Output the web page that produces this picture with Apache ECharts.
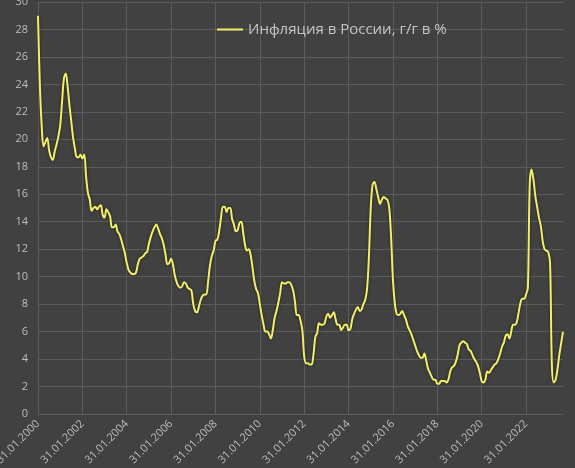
<!DOCTYPE html>
<html>
<head>
<meta charset="utf-8">
<script src="https://cdn.jsdelivr.net/npm/echarts@6/dist/echarts.min.js"></script>
<style>
html,body{margin:0;padding:0;background:#414141;}
#c{width:575px;height:468px;}
</style>
</head>
<body>
<div id="c"></div>
<script>
// Monthly YoY inflation, % (Jan..Dec each year)
const y2000 = [29.0, 24.0, 21.0, 19.5, 19.8, 20.1, 19.2, 18.7, 18.5, 19.1, 19.6, 20.2];
const y2001 = [21.0, 22.7, 24.4, 24.8, 23.9, 22.5, 21.3, 20.1, 19.3, 18.7, 18.7, 18.9];
const y2002 = [18.6, 18.9, 17.3, 16.1, 15.6, 14.8, 15.0, 15.1, 14.9, 15.1, 15.2, 14.5];
const y2003 = [14.3, 14.9, 14.7, 14.4, 13.6, 13.6, 13.8, 13.3, 13.1, 12.7, 12.2, 11.7];
const y2004 = [11.0, 10.5, 10.3, 10.2, 10.2, 10.3, 10.9, 11.3, 11.4, 11.5, 11.7, 11.8];
const y2005 = [12.4, 12.9, 13.3, 13.6, 13.8, 13.5, 13.1, 12.8, 12.3, 11.6, 10.9, 11.0];
const y2006 = [11.3, 10.9, 10.1, 9.6, 9.3, 9.2, 9.3, 9.6, 9.5, 9.2, 9.1, 9.0];
const y2007 = [8.0, 7.5, 7.4, 7.8, 8.3, 8.6, 8.7, 8.7, 9.6, 10.8, 11.5, 11.9];
const y2008 = [12.6, 12.7, 13.3, 14.3, 15.1, 15.1, 14.7, 15.0, 15.0, 14.2, 13.8, 13.3];
const y2009 = [13.4, 13.9, 14.0, 13.2, 12.3, 11.9, 12.0, 11.6, 10.7, 9.7, 9.1, 8.8];
const y2010 = [8.0, 7.2, 6.5, 6.0, 6.0, 5.8, 5.5, 6.1, 7.0, 7.5, 8.1, 8.8];
const y2011 = [9.6, 9.5, 9.5, 9.6, 9.6, 9.4, 9.0, 8.2, 7.2, 7.2, 6.8, 6.1];
const y2012 = [4.2, 3.7, 3.7, 3.6, 3.6, 4.3, 5.6, 5.9, 6.6, 6.5, 6.5, 6.6];
const y2013 = [7.1, 7.3, 7.0, 7.2, 7.4, 6.9, 6.5, 6.5, 6.1, 6.3, 6.5, 6.5];
const y2014 = [6.1, 6.2, 6.9, 7.3, 7.6, 7.8, 7.5, 7.6, 8.0, 8.3, 9.1, 11.4];
const y2015 = [15.0, 16.7, 16.9, 16.4, 15.8, 15.3, 15.6, 15.8, 15.7, 15.6, 15.0, 12.9];
const y2016 = [9.8, 8.1, 7.3, 7.2, 7.3, 7.5, 7.2, 6.9, 6.4, 6.1, 5.8, 5.4];
const y2017 = [5.0, 4.6, 4.3, 4.1, 4.1, 4.4, 3.9, 3.3, 3.0, 2.7, 2.5, 2.5];
const y2018 = [2.2, 2.2, 2.4, 2.4, 2.4, 2.3, 2.5, 3.1, 3.4, 3.5, 3.8, 4.3];
const y2019 = [5.0, 5.2, 5.3, 5.2, 5.1, 4.7, 4.6, 4.3, 4.0, 3.8, 3.5, 3.0];
const y2020 = [2.4, 2.3, 2.5, 3.1, 3.0, 3.2, 3.4, 3.6, 3.7, 4.0, 4.4, 4.9];
const y2021 = [5.2, 5.7, 5.8, 5.5, 6.0, 6.5, 6.5, 6.7, 7.4, 8.1, 8.4, 8.4];
const y2022 = [8.7, 9.2, 16.7, 17.8, 17.1, 15.9, 15.1, 14.3, 13.7, 12.6, 12.0, 11.9];
const y2023 = [11.8, 11.0, 3.5, 2.3, 2.5, 3.25, 4.3, 5.15, 6.0];

const years = [2000,2001,2002,2003,2004,2005,2006,2007,2008,2009,2010,2011,
               2012,2013,2014,2015,2016,2017,2018,2019,2020,2021,2022,2023];
const yearData = [y2000,y2001,y2002,y2003,y2004,y2005,y2006,y2007,y2008,y2009,y2010,y2011,
                  y2012,y2013,y2014,y2015,y2016,y2017,y2018,y2019,y2020,y2021,y2022,y2023];
const seriesName = 'Инфляция в России, г/г в %';
const yTicks = {min: 0, max: 30, interval: 2};

// category labels: month-end dates, dd.mm.yyyy
const categories = [];
const values = [];
yearData.forEach(function (arr, yi) {
  arr.forEach(function (v, m) {
    const yr = years[yi];
    const last = new Date(Date.UTC(yr, m + 1, 0)).getUTCDate();
    categories.push(String(last).padStart(2, '0') + '.' + String(m + 1).padStart(2, '0') + '.' + yr);
    values.push(v);
  });
});

const showEvery = function (idx) { return idx % 24 === 0; };
const txt = '#bdbdbd';
const gridCol = '#5c5c5c';

const chart = echarts.init(document.getElementById('c'));
chart.setOption({
  backgroundColor: '#414141',
  animation: false,
  grid: {left: 38, right: 12, top: 2, bottom: 54, containLabel: false, outerBoundsMode: 'none'},
  legend: {
    top: 17, left: 212,
    itemWidth: 26, itemHeight: 10, itemGap: 5,
    icon: 'path://M0,4 L26,4 L26,6 L0,6 Z',
    textStyle: {color: '#c4c4c4', fontSize: 15, fontFamily: 'Open Sans, sans-serif'},
    data: [{name: seriesName, itemStyle: {color: '#f2ee6c'}}]
  },
  xAxis: {
    type: 'category',
    data: categories,
    boundaryGap: false,
    axisLine: {show: false},
    axisTick: {show: false, interval: showEvery},
    axisLabel: {
      interval: showEvery, rotate: 45, margin: 8,
      color: txt, fontSize: 11, fontFamily: 'Open Sans, sans-serif'
    },
    splitLine: {show: true, interval: showEvery, lineStyle: {color: gridCol, width: 1}}
  },
  yAxis: {
    type: 'value',
    min: yTicks.min, max: yTicks.max, interval: yTicks.interval,
    axisLine: {show: false},
    axisTick: {show: false},
    axisLabel: {color: txt, fontSize: 11, margin: 10, fontFamily: 'Open Sans, sans-serif'},
    splitLine: {show: true, lineStyle: {color: gridCol, width: 1}}
  },
  series: [{
    name: seriesName,
    type: 'line',
    data: values,
    smooth: 0.35,
    showSymbol: false,
    symbol: 'none',
    lineStyle: {color: '#f2ee6c', width: 2, shadowColor: 'rgba(20,20,0,0.7)', shadowBlur: 3},
    itemStyle: {color: '#f2ee6c'}
  }]
});
</script>
</body>
</html>
